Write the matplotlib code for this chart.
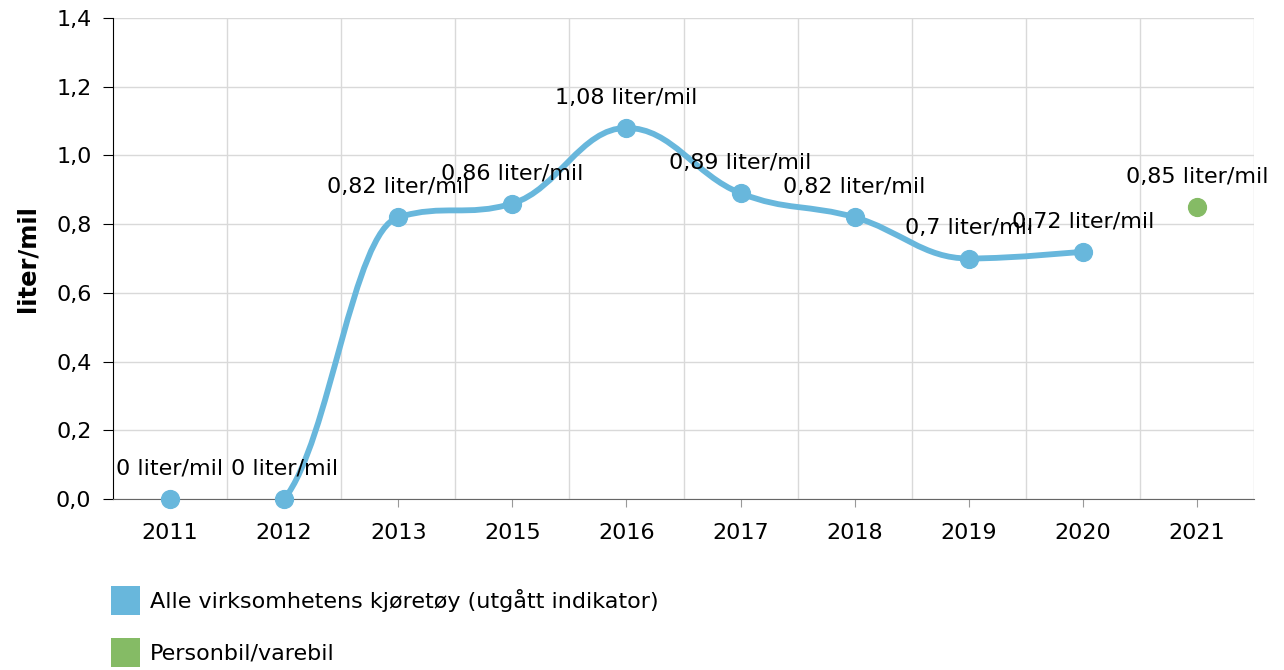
import numpy as np
import matplotlib.pyplot as plt
from matplotlib.path import Path
from matplotlib.patches import PathPatch, Patch

# Data
years = ['2011', '2012', '2013', '2015', '2016', '2017', '2018', '2019', '2020', '2021']
alle_values = [0, 0, 0.82, 0.86, 1.08, 0.89, 0.82, 0.7, 0.72]
alle_labels = ['0', '0', '0,82', '0,86', '1,08', '0,89', '0,82', '0,7', '0,72']
person_values = [0.85]
person_labels = ['0,85']
person_index = [9]

blue = '#68b7dc'
green = '#85bb65'
fs = 16


def spline_path(xs, ys, smoothing=1.5):
    # smooth curve through the points, cubic bezier with smoothed control points
    n = len(xs)
    left = [None] * n
    right = [None] * n
    denom = smoothing + 1
    for i in range(1, n - 1):
        px, py = xs[i], ys[i]
        lx, ly = xs[i - 1], ys[i - 1]
        nx, ny = xs[i + 1], ys[i + 1]
        lcx = (smoothing * px + lx) / denom
        lcy = (smoothing * py + ly) / denom
        rcx = (smoothing * px + nx) / denom
        rcy = (smoothing * py + ny) / denom
        if rcx != lcx:
            corr = ((rcy - lcy) * (rcx - px)) / (rcx - lcx) + py - rcy
            lcy += corr
            rcy += corr
        # keep control points between neighbours (not where a neighbour is level)
        if ly != py:
            if lcy > ly and lcy > py:
                lcy = max(ly, py)
                rcy = 2 * py - lcy
            elif lcy < ly and lcy < py:
                lcy = min(ly, py)
                rcy = 2 * py - lcy
        if ny != py:
            if rcy > ny and rcy > py:
                rcy = max(ny, py)
                lcy = 2 * py - rcy
            elif rcy < ny and rcy < py:
                rcy = min(ny, py)
                lcy = 2 * py - rcy
        left[i] = (lcx, lcy)
        right[i] = (rcx, rcy)
    verts = [(xs[0], ys[0])]
    codes = [Path.MOVETO]
    for i in range(1, n):
        c1 = right[i - 1] if right[i - 1] is not None else (xs[i - 1], ys[i - 1])
        c2 = left[i] if left[i] is not None else (xs[i], ys[i])
        verts += [c1, c2, (xs[i], ys[i])]
        codes += [Path.CURVE4] * 3
    return Path(verts, codes)


fig = plt.figure(figsize=(12.84, 6.70), dpi=100)
ax = fig.add_axes([113 / 1284, 171 / 670, 1141 / 1284, 481 / 670])

x = np.arange(len(alle_values))
patch = PathPatch(spline_path(list(x), alle_values), facecolor='none',
                  edgecolor=blue, lw=4.2, capstyle='round', joinstyle='round', zorder=3)
ax.add_patch(patch)
ax.scatter(x, alle_values, s=165, color=blue, zorder=4, clip_on=False)
ax.scatter(person_index, person_values, s=165, color=green, zorder=4, clip_on=False)

for xi, v, lab in zip(x, alle_values, alle_labels):
    ax.annotate(lab + ' liter/mil', (xi, v), xytext=(0, 30), textcoords='offset pixels',
                ha='center', va='center', fontsize=fs, zorder=5, annotation_clip=False)
for xi, v, lab in zip(person_index, person_values, person_labels):
    ax.annotate(lab + ' liter/mil', (xi, v), xytext=(0, 30), textcoords='offset pixels',
                ha='center', va='center', fontsize=fs, zorder=5, annotation_clip=False)

ax.set_xlim(-0.5, len(years) - 0.5)
ax.set_ylim(0, 1.4)
ax.set_xticks(range(len(years)))
ax.set_xticklabels(years, fontsize=fs)
ax.set_xticks(np.arange(0.5, len(years), 1), minor=True)
yt = np.arange(0, 1.41, 0.2)
ax.set_yticks(yt)
ax.set_yticklabels([f'{v:.1f}'.replace('.', ',') for v in yt], fontsize=fs)

ax.grid(axis='y', color='#d9d9d9', lw=1)
ax.grid(axis='x', which='minor', color='#d9d9d9', lw=1)
ax.set_axisbelow(True)

for s in ['top', 'right']:
    ax.spines[s].set_visible(False)
ax.spines['left'].set_color('black')
ax.spines['bottom'].set_color('#666666')
ax.tick_params(axis='x', which='major', length=6, color='#999999', pad=11.5)
ax.tick_params(axis='x', which='minor', length=0)
ax.tick_params(axis='y', length=7.5, color='black', pad=8)

ax.set_ylabel('liter/mil', fontsize=17.5, fontweight='bold', labelpad=12)

handles = [Patch(facecolor=blue, edgecolor='none'), Patch(facecolor=green, edgecolor='none')]
fig.legend(handles, ['Alle virksomhetens kjøretøy (utgått indikator)', 'Personbil/varebil'],
           loc='upper left', bbox_to_anchor=(111 / 1284, 1 - 586 / 670), frameon=False,
           fontsize=fs, handlelength=1.3, handleheight=1.62, handletextpad=0.45,
           labelspacing=1.05, borderpad=0, borderaxespad=0)

fig.savefig('out.png', dpi=100)
